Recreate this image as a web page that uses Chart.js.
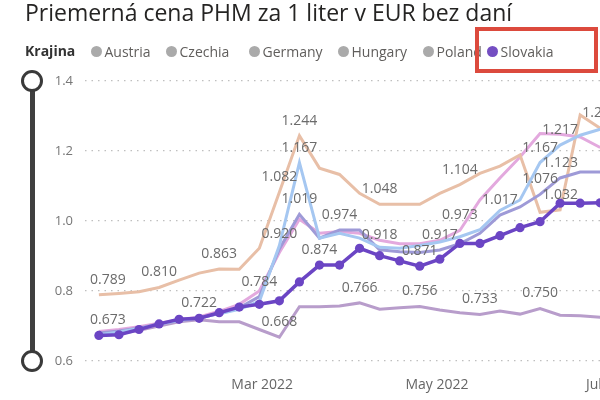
<!DOCTYPE html>
<html>
<head>
<meta charset="utf-8">
<script src="https://cdn.jsdelivr.net/npm/chart.js@4.4.1/dist/chart.umd.min.js"></script>
<style>
  html, body { margin:0; padding:0; background:#fff; }
  #wrap { position:relative; width:600px; height:400px; overflow:hidden; background:#fff; font-family:'Open Sans','Noto Sans',sans-serif; }
  #c { position:absolute; left:0; top:0; }
  #title { position:absolute; left:25px; top:-3px; font-size:23px; color:#252423; white-space:nowrap; line-height:30px; }
  #legend { position:absolute; left:0; top:41px; width:600px; height:20px; white-space:nowrap; font-size:14px; color:#605E5C; }
  #legend .head { position:absolute; left:25px; top:0; line-height:20px; font-weight:bold; color:#333; }
  #legend .item { position:absolute; top:0; height:20px; display:flex; align-items:center; }
  #legend .dot { width:11px; height:11px; border-radius:50%; margin-right:3px; }
  #box { position:absolute; left:475px; top:27px; width:123px; height:46px; border:4px solid #dc4a3d; box-sizing:border-box; }
  #rail { position:absolute; left:29.5px; top:81px; width:5px; height:280px; background:#3f3f3f; }
  .knob { position:absolute; left:21px; width:16px; height:16px; border:3px solid #3a3a3a; border-radius:50%; background:#fff; }
</style>
</head>
<body>
<div id="wrap">
  <canvas id="c" width="680" height="400"></canvas>
  <div id="title">Priemerná cena PHM za 1 liter v EUR bez daní</div>
  <div id="legend"></div>
  <div id="box"></div>
  <div id="rail"></div>
  <div class="knob" style="top:70px"></div>
  <div class="knob" style="top:350px"></div>
</div>
<script>
// ---- data ----
const legendTitle = 'Krajina';
const countries = ['Austria', 'Czechia', 'Germany', 'Hungary', 'Poland', 'Slovakia'];
const weekStarts = ['2022-01-03','2022-01-10','2022-01-17','2022-01-24','2022-01-31','2022-02-07','2022-02-14',
  '2022-02-21','2022-02-28','2022-03-07','2022-03-14','2022-03-21','2022-03-28','2022-04-04','2022-04-11',
  '2022-04-18','2022-04-25','2022-05-02','2022-05-09','2022-05-16','2022-05-23','2022-05-30','2022-06-06',
  '2022-06-13','2022-06-20','2022-06-27'];
const austria  = [0.675,0.683,0.693,0.705,0.716,0.724,0.735,0.748,0.770,0.930,1.167,0.951,0.965,0.951,0.925,0.922,0.930,0.940,0.955,0.975,1.030,1.060,1.167,1.217,1.245,1.262];
const czechia  = [0.680,0.686,0.694,0.706,0.716,0.722,0.736,0.752,0.784,0.920,1.019,0.951,0.974,0.974,0.918,0.912,0.910,0.917,0.935,0.965,1.017,1.040,1.076,1.123,1.140,1.140];
const germany  = [0.789,0.793,0.798,0.810,0.831,0.851,0.863,0.862,0.922,1.082,1.244,1.151,1.133,1.079,1.048,1.048,1.048,1.079,1.104,1.136,1.157,1.189,1.025,1.032,1.303,1.265];
const hungary  = [0.673,0.678,0.688,0.700,0.712,0.718,0.712,0.712,0.690,0.668,0.755,0.755,0.757,0.766,0.748,0.752,0.756,0.746,0.738,0.733,0.743,0.734,0.750,0.731,0.729,0.725];
const poland   = [0.684,0.690,0.698,0.708,0.718,0.726,0.742,0.762,0.800,0.910,1.005,0.965,0.970,0.965,0.945,0.935,0.935,0.945,0.973,1.060,1.123,1.183,1.250,1.248,1.240,1.210];
const slovakia = [0.673,0.675,0.690,0.706,0.719,0.722,0.738,0.754,0.762,0.772,0.826,0.874,0.874,0.922,0.901,0.886,0.871,0.891,0.936,0.936,0.958,0.981,0.998,1.051,1.051,1.052];
// indices of weeks that carry a data label, per series
const austriaLabels  = [10, 22, 23];
const czechiaLabels  = [8, 9, 10, 12, 14, 17, 20, 22, 23];
const germanyLabels  = [0, 3, 6, 9, 10, 14, 18, 23, 25];
const hungaryLabels  = [9, 13, 16, 19, 22];
const polandLabels   = [18];
const slovakiaLabels = [0, 5, 11, 16];
const yTicks = [0.6, 0.8, 1.0, 1.2, 1.4];
const monthTickDates = ['2022-03-01', '2022-05-01', '2022-07-01'];
const monthTickLabels = ['Mar 2022', 'May 2022', 'Jul 2022'];

// ---- helpers / styles ----
const base = Date.parse('2022-01-01');
const dayOf = d => (Date.parse(d) - base) / 86400000;
const seriesValues = [austria, czechia, germany, hungary, poland, slovakia];
const seriesLabels = [austriaLabels, czechiaLabels, germanyLabels, hungaryLabels, polandLabels, slovakiaLabels];
const lineColors = ['#a5c7f1', '#9e9ad7', '#e8bfa7', '#b89dcb', '#e3a9de', '#6b45c4'];
const dotColors = ['#aaaaaa', '#aaaaaa', '#aaaaaa', '#aaaaaa', '#aaaaaa', '#744ec2'];
const legendDotCenters = [96, 171, 254, 343, 428, 492];

// legend (HTML)
const lg = document.getElementById('legend');
const h = document.createElement('span'); h.className = 'head'; h.textContent = legendTitle; lg.appendChild(h);
countries.forEach((c, i) => {
  const it = document.createElement('span'); it.className = 'item';
  it.style.left = (legendDotCenters[i] - 5.5) + 'px';
  const d = document.createElement('span'); d.className = 'dot'; d.style.background = dotColors[i];
  const t = document.createElement('span'); t.textContent = c;
  it.appendChild(d); it.appendChild(t); lg.appendChild(it);
});

const datasets = countries.map((c, i) => {
  const hi = c === 'Slovakia';
  return {
    label: c,
    data: weekStarts.map((w, k) => ({ x: dayOf(w), y: seriesValues[i][k] })),
    borderColor: lineColors[i],
    backgroundColor: lineColors[i],
    borderWidth: hi ? 3.5 : 3,
    pointRadius: hi ? 4.6 : 0,
    pointBorderWidth: 0,
    pointBackgroundColor: lineColors[i],
    tension: 0,
    order: hi ? 0 : 1 + i,
    labelIdx: seriesLabels[i]
  };
});

const dataLabels = {
  id: 'dataLabels',
  afterDatasetsDraw(chart) {
    const ctx = chart.ctx, area = chart.chartArea;
    ctx.save();
    ctx.font = "14px 'Open Sans', 'Noto Sans', sans-serif";
    ctx.fillStyle = '#6b6b6b';
    ctx.textAlign = 'center';
    ctx.textBaseline = 'middle';
    chart.data.datasets.forEach((ds, di) => {
      const meta = chart.getDatasetMeta(di);
      ds.labelIdx.forEach(k => {
        const el = meta.data[k];
        const txt = ds.data[k].y.toFixed(3);
        const w = ctx.measureText(txt).width;
        let x = Math.max(el.x, area.left + 5 + w / 2);
        ctx.fillText(txt, x, el.y - 15);
      });
    });
    ctx.restore();
  }
};

const x0 = dayOf(weekStarts[0]);
Chart.defaults.font.family = "'Open Sans', 'Noto Sans', sans-serif";
new Chart(document.getElementById('c'), {
  type: 'line',
  data: { datasets },
  plugins: [dataLabels],
  options: {
    responsive: false,
    animation: false,
    layout: { padding: { left: 45, top: 81, right: 0, bottom: 0 } },
    plugins: { legend: { display: false }, tooltip: { enabled: false }, title: { display: false } },
    scales: {
      x: {
        type: 'linear',
        min: x0 - 14 / 2.887,
        max: x0 - 14 / 2.887 + 595 / 2.887,
        grid: { display: false },
        border: { display: false },
        afterBuildTicks: s => { s.ticks = monthTickDates.map(d => ({ value: dayOf(d) })); },
        afterFit: s => { s.height = 39; s.paddingLeft = 0; s.paddingRight = 0; },
        ticks: {
          autoSkip: false, maxRotation: 0, padding: 8,
          color: '#666666', font: { size: 14 },
          callback: (v, i) => monthTickLabels[i]
        }
      },
      y: {
        min: 0.6, max: 1.4,
        afterBuildTicks: s => { s.ticks = yTicks.map(v => ({ value: v })); },
        afterFit: s => { s.width = 40; s.paddingTop = 0; s.paddingBottom = 0; },
        grid: { color: '#bfbfbf', lineWidth: 1.2, drawTicks: false, tickLength: 0 },
        border: { display: false, dash: [1.5, 5] },
        ticks: { padding: 12, color: '#777777', font: { size: 13 }, callback: v => v.toFixed(1) }
      }
    }
  }
});
</script>
</body>
</html>
